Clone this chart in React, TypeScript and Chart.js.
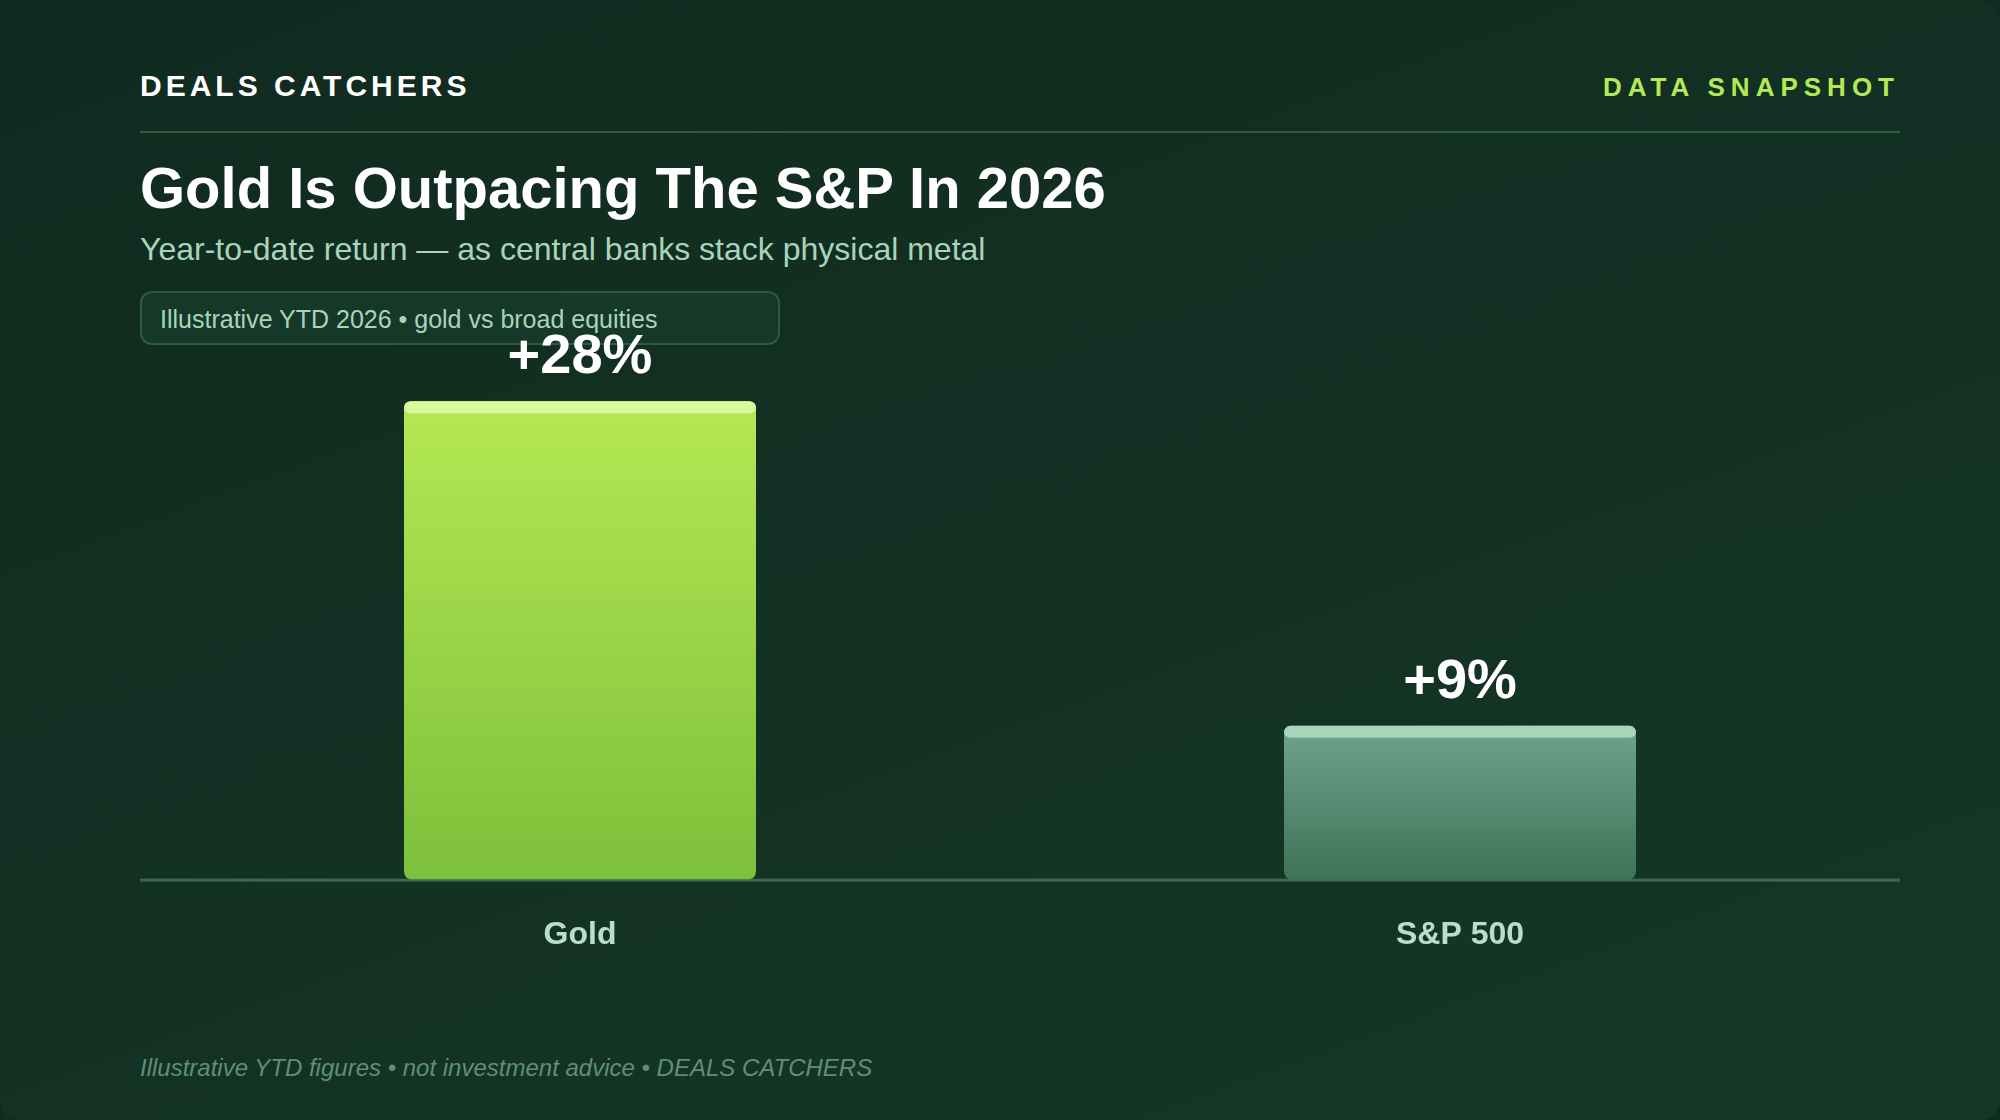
import React, { useEffect, useRef } from "react";
import Chart from "chart.js/auto";

const categories = ["Gold", "S&P 500"];
const ytdReturns = [28, 9];
const valueLabels = ["+28%", "+9%"];

const FONT = '"Liberation Sans", Arial, sans-serif';
const BAR_TOP = ["#b5e853", "#6fa38f"];
const BAR_BOTTOM = ["#7dc03b", "#3f7357"];
const BAR_CAP = ["#d9f99d", "#a8d5ba"];
const AXIS_COLOR = "#3a6b50";
const TICK_COLOR = "#b8e0c8";
const RULE_COLOR = "#2d5a45";
const SOFT_TEXT = "#a8d5ba";

const barExtras = {
  id: "barExtras",
  beforeDatasetsDraw(chart: any) {
    const { ctx, chartArea } = chart;
    ctx.save();
    ctx.fillStyle = AXIS_COLOR;
    ctx.fillRect(chartArea.left, chartArea.bottom - 1, chartArea.width, 3);
    ctx.restore();
  },
  afterDatasetsDraw(chart: any) {
    const { ctx } = chart;
    chart.getDatasetMeta(0).data.forEach((bar: any, i: number) => {
      const left = bar.x - bar.width / 2;
      ctx.save();
      ctx.fillStyle = BAR_CAP[i];
      ctx.beginPath();
      ctx.roundRect(left, bar.y, bar.width, 12, 6);
      ctx.fill();
      ctx.fillStyle = "#ffffff";
      ctx.font = `bold 56px ${FONT}`;
      ctx.textAlign = "center";
      ctx.textBaseline = "alphabetic";
      ctx.fillText(valueLabels[i], bar.x, bar.y - 28);
      ctx.restore();
    });
  },
};

function Label({
  text,
  top,
  size,
  color,
  style,
}: {
  text: string;
  top: number;
  size: number;
  color: string;
  style?: React.CSSProperties;
}) {
  return (
    <div
      style={{
        position: "absolute",
        top,
        left: 140,
        fontSize: size,
        lineHeight: 1,
        color,
        whiteSpace: "nowrap",
        ...style,
      }}
    >
      {text}
    </div>
  );
}

export default function App() {
  const chartRef = useRef<HTMLCanvasElement | null>(null);

  useEffect(() => {
    const canvas = chartRef.current;
    if (!canvas) return;

    const chart = new Chart(canvas, {
      type: "bar",
      data: {
        labels: categories,
        datasets: [
          {
            data: ytdReturns,
            barPercentage: 0.4,
            categoryPercentage: 1,
            borderRadius: 8,
            borderSkipped: false,
            backgroundColor: (c: any) => {
              const i = c.dataIndex ?? 0;
              const top = c.chart.scales.y?.getPixelForValue(ytdReturns[i]);
              const base = c.chart.scales.y?.getPixelForValue(0);
              if (!Number.isFinite(top) || !Number.isFinite(base)) return BAR_TOP[i];
              const g = c.chart.ctx.createLinearGradient(0, top, 0, base);
              g.addColorStop(0, BAR_TOP[i]);
              g.addColorStop(1, BAR_BOTTOM[i]);
              return g;
            },
          },
        ],
      },
      options: {
        responsive: false,
        animation: false,
        devicePixelRatio: 1,
        layout: { padding: { left: 140, right: 100, top: 333, bottom: 130 } },
        plugins: { legend: { display: false }, tooltip: { enabled: false } },
        scales: {
          x: {
            grid: { display: false, drawTicks: false },
            border: { display: false },
            ticks: {
              color: TICK_COLOR,
              padding: 36,
              font: { family: FONT, size: 32, weight: "bold" },
            },
          },
          y: {
            display: false,
            min: 0,
            max: 32,
          },
        },
      },
      plugins: [barExtras],
    } as any);

    return () => chart.destroy();
  }, []);

  return (
    <div
      style={{
        position: "absolute",
        top: 0,
        left: 0,
        width: 2000,
        height: 1120,
        overflow: "hidden",
        fontFamily: FONT,
        background: "#102b1f",
      }}
    >
      <div
        style={{
          position: "absolute",
          inset: 0,
          borderRadius: 20,
          background: "linear-gradient(160deg, #102b1f 0%, #153728 100%)",
        }}
      />
      <Label
        text="DEALS CATCHERS"
        top={71}
        size={30}
        color="#ffffff"
        style={{ fontWeight: 700, letterSpacing: 4 }}
      />
      <Label
        text="DATA SNAPSHOT"
        top={74}
        size={26}
        color="#b5e853"
        style={{ fontWeight: 700, letterSpacing: 6, left: "auto", right: 100 }}
      />
      <div
        style={{
          position: "absolute",
          left: 140,
          top: 131,
          width: 1760,
          height: 2,
          background: RULE_COLOR,
        }}
      />
      <Label text="Gold Is Outpacing The S&P In 2026" top={159} size={58} color="#ffffff" style={{ fontWeight: 700 }} />
      <Label text="Year-to-date return — as central banks stack physical metal" top={233} size={32} color={SOFT_TEXT} />
      <div
        style={{
          position: "absolute",
          left: 140,
          top: 291,
          width: 640,
          height: 54,
          boxSizing: "border-box",
          borderRadius: 12,
          border: `2px solid ${RULE_COLOR}`,
          background: "#153828",
        }}
      />
      <Label text="Illustrative YTD 2026 • gold vs broad equities" top={307} size={25} color={SOFT_TEXT} style={{ left: 160 }} />
      <Label
        text="Illustrative YTD figures • not investment advice • DEALS CATCHERS"
        top={1056}
        size={24}
        color="#5f8f78"
        style={{ fontStyle: "italic" }}
      />
      <canvas
        ref={chartRef}
        width={2000}
        height={1120}
        style={{ position: "absolute", top: 0, left: 0, width: 2000, height: 1120 }}
      />
    </div>
  );
}
